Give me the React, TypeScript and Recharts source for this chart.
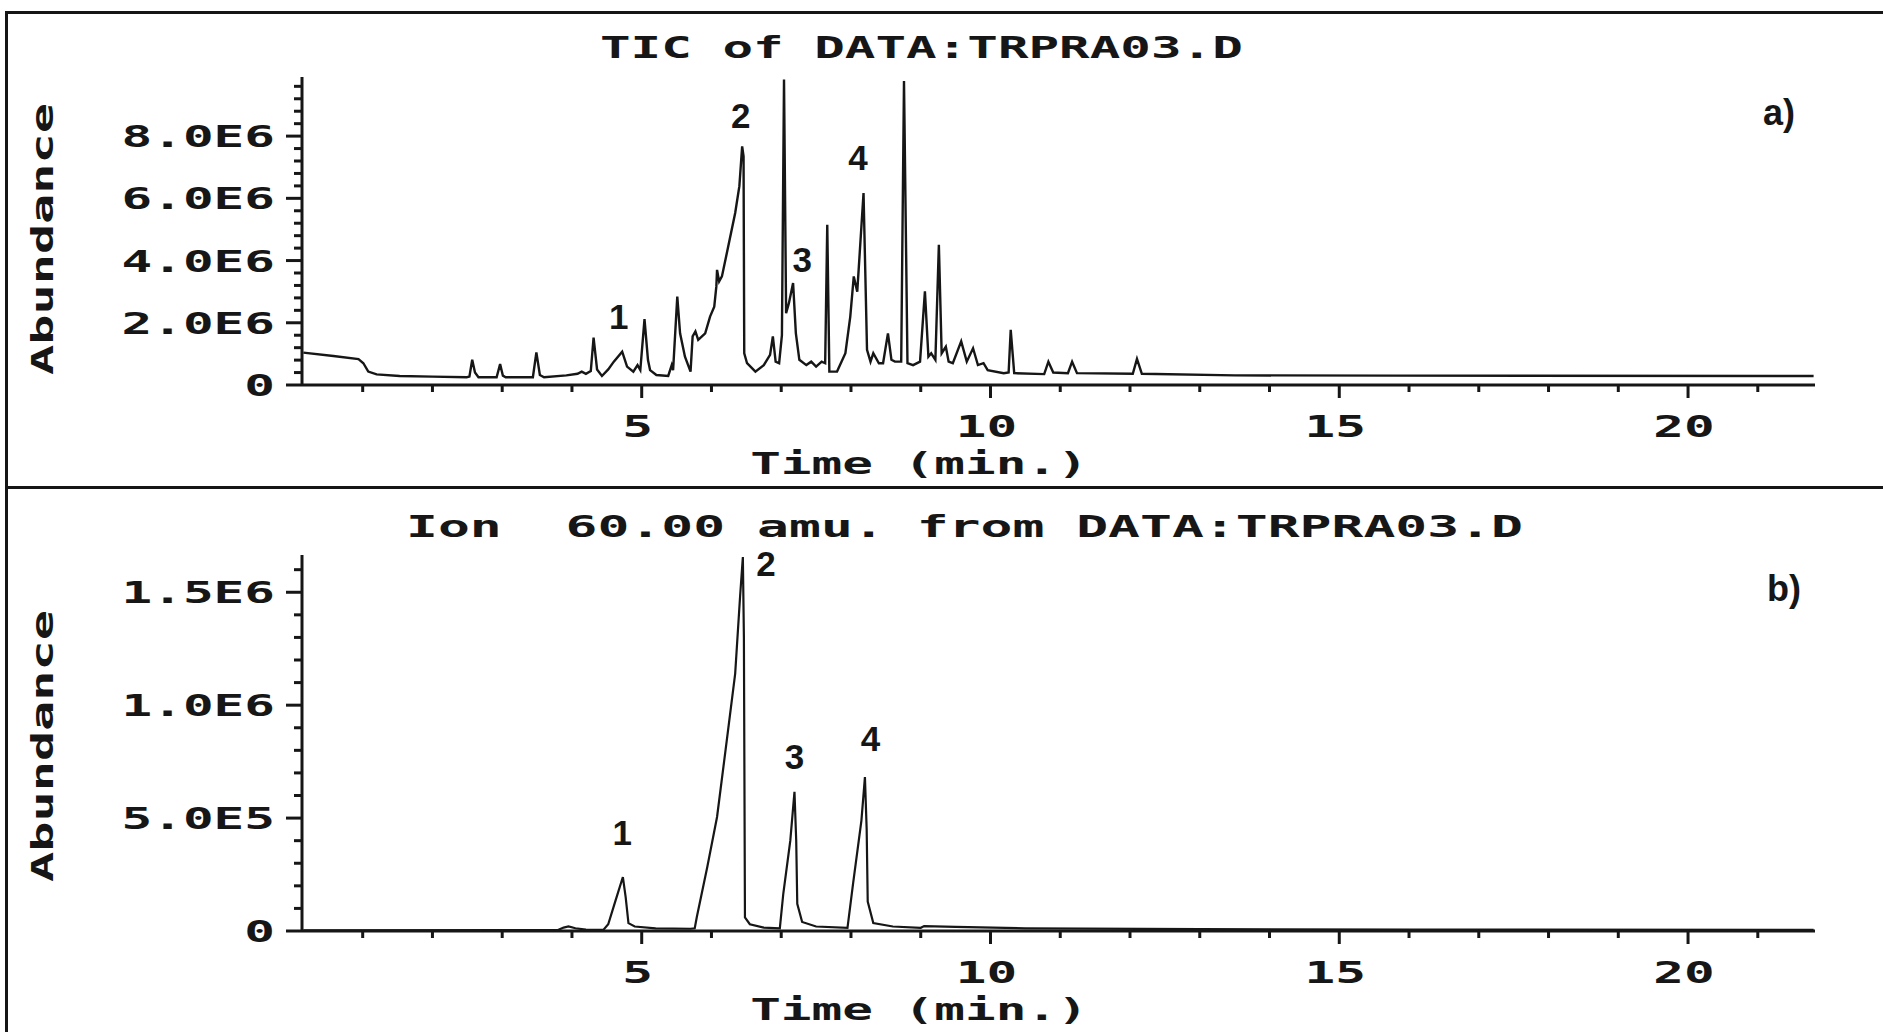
import React from 'react';
import { LineChart, Line, XAxis, YAxis, ReferenceDot } from 'recharts';

// ---------- Panel a) TIC ----------
const timeA = [
  0.15, 0.58, 0.94, 1.01, 1.08, 1.2, 1.53, 2.0, 2.49, 2.53, 2.57, 2.61, 2.66, 2.92, 2.97, 3.01, 3.05,
  3.44, 3.49, 3.54, 3.6, 3.92, 4.08, 4.14, 4.2, 4.27, 4.31, 4.36, 4.43, 4.52, 4.6, 4.72, 4.79, 4.88,
  4.94, 4.98, 5.04, 5.09, 5.12, 5.21, 5.38, 5.43, 5.45, 5.51, 5.55, 5.62, 5.7, 5.73, 5.77, 5.81, 5.91,
  5.98, 6.04, 6.07, 6.08, 6.11, 6.15, 6.24, 6.34, 6.4, 6.44, 6.46, 6.47, 6.51, 6.63, 6.75, 6.84, 6.88,
  6.92, 6.97, 7.01, 7.04, 7.07, 7.11, 7.17, 7.21, 7.26, 7.36, 7.43, 7.5, 7.58, 7.63, 7.66, 7.69, 7.8,
  7.92, 7.99, 8.04, 8.09, 8.18, 8.23, 8.28, 8.32, 8.4, 8.46, 8.53, 8.58, 8.63, 8.72, 8.76, 8.81, 8.89,
  8.99, 9.06, 9.11, 9.15, 9.21, 9.26, 9.3, 9.36, 9.4, 9.46, 9.58, 9.66, 9.75, 9.82, 9.9, 9.96, 10.19,
  10.26, 10.29, 10.34, 10.77, 10.83, 10.9, 11.11, 11.17, 11.24, 12.04, 12.1, 12.17, 13.5, 15.8, 21.8,
];
// abundance in units of 1E6
const abundA = [
  1.04, 0.93, 0.83, 0.7, 0.43, 0.34, 0.29, 0.27, 0.25, 0.27, 0.81, 0.4, 0.25, 0.25, 0.67, 0.3, 0.25,
  0.25, 1.05, 0.32, 0.25, 0.31, 0.36, 0.43, 0.36, 0.45, 1.52, 0.5, 0.29, 0.5, 0.75, 1.07, 0.59, 0.43,
  0.64, 0.48, 2.12, 0.8, 0.48, 0.32, 0.29, 0.64, 0.48, 2.84, 1.66, 0.91, 0.43, 1.56, 1.72, 1.45, 1.66,
  2.2, 2.52, 3.17, 3.7, 3.33, 3.49, 4.45, 5.53, 6.39, 7.67, 7.35, 1.02, 0.7, 0.43, 0.64, 0.97, 1.56,
  0.75, 0.7, 1.6, 9.82, 2.31, 2.63, 3.28, 1.66, 0.81, 0.64, 0.75, 0.59, 0.75, 0.7, 5.15, 0.43, 0.43,
  1.02, 2.2, 3.49, 3.0, 6.17, 1.13, 0.75, 1.02, 0.7, 0.7, 1.66, 0.81, 0.75, 0.75, 9.77, 0.7, 0.64,
  0.75, 3.01, 0.91, 1.02, 0.81, 4.51, 1.02, 1.23, 0.75, 0.7, 1.4, 0.75, 1.18, 0.64, 0.7, 0.48, 0.38,
  0.4, 1.77, 0.38, 0.35, 0.75, 0.4, 0.38, 0.75, 0.38, 0.36, 0.84, 0.36, 0.31, 0.3, 0.29,
];
const yTicksA = [0, 0.4, 0.8, 1.2, 1.6, 2, 2.4, 2.8, 3.2, 3.6, 4, 4.4, 4.8, 5.2, 5.6, 6, 6.4, 6.8, 7.2, 7.6, 8, 8.4, 8.8, 9.2, 9.6];
const yMajorA = [0, 2, 4, 6, 8];
const yLabelsA = ['0', '2.0E6', '4.0E6', '6.0E6', '8.0E6'];
const peakNamesA = ['1', '2', '3', '4'];
const peakTimeA = [4.67, 6.42, 7.3, 8.1];
const peakLabelYA = [2.21, 8.66, 4.03, 7.31];

// ---------- Panel b) Ion 60 ----------
const timeB = [
  0.15, 3.8, 3.88, 3.95, 4.05, 4.2, 4.45, 4.52, 4.62, 4.73, 4.77, 4.81, 4.9, 5.2, 5.7, 5.76, 5.79,
  5.94, 6.08, 6.22, 6.34, 6.41, 6.45, 6.465, 6.48, 6.55, 6.75, 6.98, 7.03, 7.13, 7.19, 7.215, 7.23,
  7.3, 7.5, 7.95, 8.03, 8.15, 8.2, 8.225, 8.24, 8.32, 8.6, 9.0, 9.05, 9.5, 10.5, 13, 16, 21.8,
];
// abundance in units of 1E6
const abundB = [
  0.003, 0.004, 0.015, 0.02, 0.012, 0.006, 0.005, 0.03, 0.13, 0.239, 0.15, 0.035, 0.02, 0.012, 0.01,
  0.012, 0.062, 0.283, 0.505, 0.845, 1.14, 1.48, 1.656, 1.3, 0.06, 0.03, 0.015, 0.012, 0.166, 0.4,
  0.616, 0.4, 0.12, 0.04, 0.02, 0.014, 0.21, 0.49, 0.682, 0.45, 0.13, 0.035, 0.02, 0.014, 0.022,
  0.018, 0.012, 0.008, 0.006, 0.005,
];
const yTicksB = [0, 0.1, 0.2, 0.3, 0.4, 0.5, 0.6, 0.7, 0.8, 0.9, 1, 1.1, 1.2, 1.3, 1.4, 1.5, 1.6];
const yMajorB = [0, 0.5, 1, 1.5];
const yLabelsB = ['0', '5.0E5', '1.0E6', '1.5E6'];
const peakNamesB = ['1', '2', '3', '4'];
const peakTimeB = [4.72, 6.78, 7.19, 8.28];
const peakLabelYB = [0.435, 1.628, 0.771, 0.853];

// ---------- shared x axis ----------
const xTicks = [1, 2, 3, 4, 5, 6, 7, 8, 9, 10, 11, 12, 13, 14, 15, 16, 17, 18, 19, 20, 21];
const xMajor = [5, 10, 15, 20];
const xLabels = ['5', '10', '15', '20'];

const titleA = 'TIC of DATA:TRPRA03.D';
const titleB = 'Ion  60.00 amu. from DATA:TRPRA03.D';
const xTitle = 'Time (min.)';
const yTitle = 'Abundance';

const dataA = timeA.map((t, i) => ({ t, v: abundA[i] }));
const dataB = timeB.map((t, i) => ({ t, v: abundB[i] }));

const INK = '#161616';
const MONO = '"DejaVu Sans Mono", "Liberation Mono", monospace';
const SANS = '"Liberation Sans", Arial, sans-serif';
const SX = 1.7;

const makeYTick = (majors: number[], labels: string[]) => (props: any) => {
  const { x, y, payload } = props;
  const idx = majors.indexOf(payload.value);
  const major = idx >= 0;
  return (
    <g>
      <line x1={x - (major ? 16 : 8)} x2={x} y1={y} y2={y} stroke={INK} strokeWidth={3} />
      {major && (
        <text
          transform={`translate(${x - 27},${y + 11}) scale(${SX},1)`}
          textAnchor="end"
          fontFamily={MONO}
          fontWeight="bold"
          fontSize={30}
          fill={INK}
        >
          {labels[idx]}
        </text>
      )}
    </g>
  );
};

const XTick = (props: any) => {
  const { x, y, payload } = props;
  const idx = xMajor.indexOf(payload.value);
  const major = idx >= 0;
  return (
    <g>
      <line x1={x} x2={x} y1={y} y2={y + (major ? 13 : 7)} stroke={INK} strokeWidth={3} />
      {major && (
        <text
          transform={`translate(${x - 4},${y + 52}) scale(${SX},1)`}
          textAnchor="middle"
          fontFamily={MONO}
          fontWeight="bold"
          fontSize={30}
          fill={INK}
        >
          {xLabels[idx]}
        </text>
      )}
    </g>
  );
};

const xTitleLabel = (props: any) => {
  const vb = props.viewBox || {};
  return (
    <text
      transform={`translate(${vb.x + 617},${vb.y + 89}) scale(${SX},1)`}
      textAnchor="middle"
      fontFamily={MONO}
      fontWeight="bold"
      fontSize={30}
      fill={INK}
    >
      {xTitle}
    </text>
  );
};

const makeYTitle = (cy: number) => (props: any) => {
  const vb = props.viewBox || {};
  return (
    <text
      transform={`translate(${vb.x + 42},${cy}) rotate(-90) scale(1.62,1)`}
      textAnchor="middle"
      dominantBaseline="central"
      fontFamily={MONO}
      fontWeight="bold"
      fontSize={31}
      fill={INK}
    >
      {yTitle}
    </text>
  );
};

const peakLabel = (text: string) => (props: any) => {
  const vb = props.viewBox || {};
  const cx = vb.x + (vb.width || 0) / 2;
  const cy = vb.y + (vb.height || 0) / 2;
  return (
    <text x={cx} y={cy + 12.5} textAnchor="middle" fontFamily={SANS} fontWeight="bold" fontSize={35} fill={INK}>
      {text}
    </text>
  );
};

const overlayText = (left: number, top: number, text: string, mono: boolean, sx: number) => (
  <div
    style={{
      position: 'absolute',
      left,
      top,
      fontFamily: mono ? MONO : SANS,
      fontWeight: 'bold',
      fontSize: mono ? 31 : 36,
      lineHeight: 1,
      whiteSpace: 'pre',
      color: INK,
      transform: `scaleX(${sx})`,
      transformOrigin: 'left top',
    }}
  >
    {text}
  </div>
);

const axisLine = { stroke: INK, strokeWidth: 3 };

export default function App() {
  return (
    <div style={{ position: 'absolute', left: 0, top: 0, width: 1883, height: 1032, background: '#fff', overflow: 'hidden' }}>
      {/* frame */}
      <div style={{ position: 'absolute', left: 5, top: 11, width: 1878, height: 3, background: INK }} />
      <div style={{ position: 'absolute', left: 5, top: 11, width: 3, height: 1021, background: INK }} />
      <div style={{ position: 'absolute', left: 5, top: 486, width: 1878, height: 3, background: INK }} />

      <div style={{ position: 'absolute', left: 0, top: 0 }}>
        <LineChart width={1883} height={487} data={dataA} margin={{ top: 77, right: 68, bottom: 0, left: 0 }}>
          <XAxis
            dataKey="t"
            type="number"
            domain={[0.13, 21.82]}
            ticks={xTicks}
            interval={0}
            tickSize={0}
            tickMargin={0}
            tickLine={false}
            tick={XTick}
            axisLine={axisLine}
            height={102}
            allowDataOverflow
            label={xTitleLabel}
          />
          <YAxis
            type="number"
            domain={[0, 9.9]}
            ticks={yTicksA}
            interval={0}
            tickSize={0}
            tickMargin={0}
            tickLine={false}
            tick={makeYTick(yMajorA, yLabelsA)}
            axisLine={axisLine}
            width={302}
            allowDataOverflow
            label={makeYTitle(239)}
          />
          <Line type="linear" dataKey="v" stroke={INK} strokeWidth={2.4} dot={false} isAnimationActive={false} />
          {peakNamesA.map((n, i) => (
            <ReferenceDot key={n} x={peakTimeA[i]} y={peakLabelYA[i]} r={0} fill="none" stroke="none" label={peakLabel(n)} />
          ))}
        </LineChart>
      </div>

      <div style={{ position: 'absolute', left: 0, top: 487 }}>
        <LineChart width={1883} height={545} data={dataB} margin={{ top: 68, right: 68, bottom: 0, left: 0 }}>
          <XAxis
            dataKey="t"
            type="number"
            domain={[0.13, 21.82]}
            ticks={xTicks}
            interval={0}
            tickSize={0}
            tickMargin={0}
            tickLine={false}
            tick={XTick}
            axisLine={axisLine}
            height={101}
            allowDataOverflow
            label={xTitleLabel}
          />
          <YAxis
            type="number"
            domain={[0, 1.665]}
            ticks={yTicksB}
            interval={0}
            tickSize={0}
            tickMargin={0}
            tickLine={false}
            tick={makeYTick(yMajorB, yLabelsB)}
            axisLine={axisLine}
            width={302}
            allowDataOverflow
            label={makeYTitle(746 - 487)}
          />
          <Line type="linear" dataKey="v" stroke={INK} strokeWidth={2.2} dot={false} isAnimationActive={false} />
          {peakNamesB.map((n, i) => (
            <ReferenceDot key={n} x={peakTimeB[i]} y={peakLabelYB[i]} r={0} fill="none" stroke="none" label={peakLabel(n)} />
          ))}
        </LineChart>
      </div>

      {overlayText(600, 32, titleA, true, 1.64)}
      {overlayText(406, 511, titleB, true, 1.71)}
      {overlayText(1763, 95, 'a)', false, 1)}
      {overlayText(1767, 571, 'b)', false, 1)}
    </div>
  );
}
